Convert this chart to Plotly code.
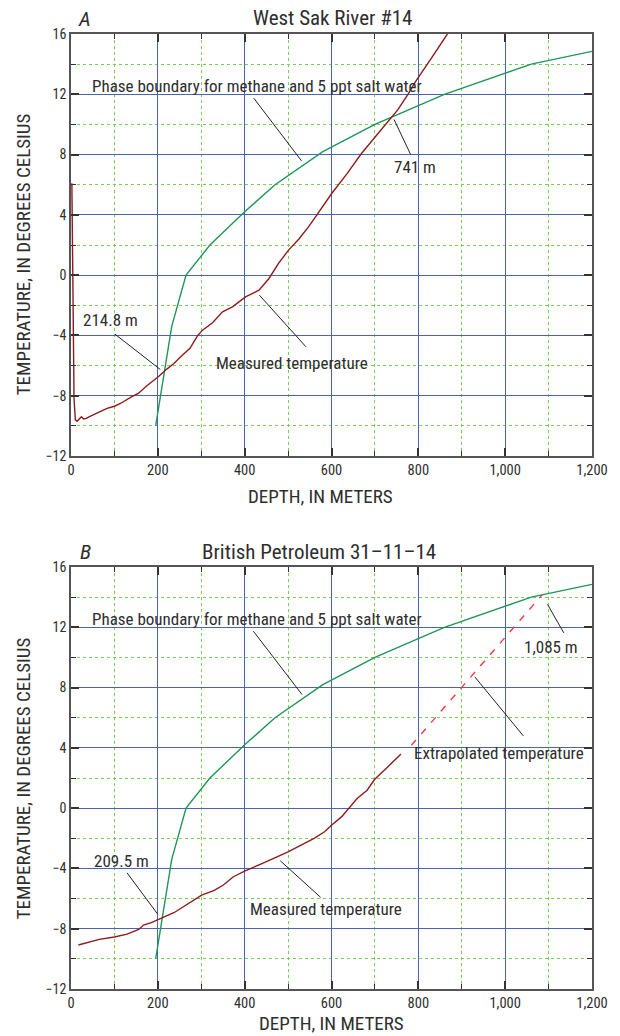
import numpy as np
import plotly.graph_objects as go

# Methane hydrate phase boundary for 5 ppt salt water (depth m, temperature degC)
boundary_depth = [195, 232, 265, 320, 400, 470, 580, 700, 860, 1060, 1200]
boundary_temp = [-10.0, -3.4, 0.0, 2.0, 4.2, 6.0, 8.2, 10.0, 12.0, 14.0, 14.85]

# West Sak River #14 measured temperature log
wsak_depth = [2, 3, 5, 7, 10, 14, 19, 24, 29, 35, 45, 56, 70, 83, 100, 115, 138, 155,
              174, 190, 201, 220, 237, 255, 274, 292, 303, 326, 349, 372, 402, 433,
              456, 478, 501, 525, 547, 566, 600, 635, 669, 700, 737, 753, 776, 795,
              829, 867]
wsak_temp = [6.1, 2.0, -4.0, -8.2, -9.6, -9.7, -9.55, -9.4, -9.55, -9.5, -9.35, -9.2,
             -9.0, -8.84, -8.7, -8.5, -8.1, -7.85, -7.35, -7.0, -6.74, -6.25, -5.86,
             -5.35, -4.86, -4.0, -3.65, -3.16, -2.43, -2.1, -1.44, -1.0, -0.22, 0.78,
             1.66, 2.4, 3.2, 3.98, 5.4, 6.7, 8.07, 9.15, 10.45, 10.98, 12.0, 12.9,
             14.35, 16.0]

# British Petroleum 31-11-14 measured temperature log
bp_depth = [17, 40, 65, 100, 129, 156, 167, 185, 201, 220, 237, 255, 274, 301, 330,
            351, 374, 401, 441, 470, 500, 530, 560, 584, 600, 623, 641, 659, 682, 699,
            730, 760]
bp_temp = [-9.08, -8.9, -8.71, -8.55, -8.36, -8.05, -7.76, -7.6, -7.38, -7.15, -6.94,
           -6.6, -6.28, -5.77, -5.45, -5.1, -4.55, -4.16, -3.67, -3.3, -2.9, -2.45,
           -2.0, -1.57, -1.13, -0.58, 0.0, 0.64, 1.19, 1.9, 2.75, 3.6]

# Straight-line extrapolation of the BP log below the measured interval
bp_extrap_depth = [784, 1085]
bp_extrap_temp = [4.17, 14.15]

# Depths where each profile meets the phase boundary
wsak_crossings = [214.8, 741]
bp_crossings = [209.5, 1085]

x_ticks = [0, 200, 400, 600, 800, 1000, 1200]
y_ticks = [-12, -8, -4, 0, 4, 8, 12, 16]

FONT = ("Liberation Sans Narrow, Roboto Condensed, Noto Sans Condensed, "
        "Arial Narrow, DejaVu Sans Condensed, sans-serif")
TEXT = "#2e2e2e"
BLUE = "#4a63b2"
GRID_GREEN = "#78cf58"
BOUNDARY = "#1f9656"
MEASURED = "#8c1c1c"
EXTRAP = "#f03a40"
LEADER = "#222222"

W, H = 620, 1036
ML, MR, MT, MB = 71, 25, 34, 47
PW, PH = W - ML - MR, H - MT - MB
PX_PER_M = PW / 1200.0
PX_PER_C = 422 / 28.0


def paper_x(px):
    return (px - ML) / PW


def paper_y(py):
    return (H - MB - py) / PH


def boundary_at(d):
    return float(np.interp(d, boundary_depth, boundary_temp))


fig = go.Figure()

panels = [
    dict(x="x", y="y", depth=wsak_depth, temp=wsak_temp),
    dict(x="x2", y="y2", depth=bp_depth, temp=bp_temp),
]

for p in panels:
    fig.add_trace(go.Scatter(x=boundary_depth, y=boundary_temp, mode="lines",
                             line=dict(color=BOUNDARY, width=1.4),
                             xaxis=p["x"], yaxis=p["y"], showlegend=False,
                             hoverinfo="skip"))
    fig.add_trace(go.Scatter(x=p["depth"], y=p["temp"], mode="lines",
                             line=dict(color=MEASURED, width=1.4),
                             xaxis=p["x"], yaxis=p["y"], showlegend=False,
                             hoverinfo="skip"))

fig.add_trace(go.Scatter(x=bp_extrap_depth, y=bp_extrap_temp, mode="lines",
                         line=dict(color=EXTRAP, width=1.4, dash="7px,8px"),
                         xaxis="x2", yaxis="y2", showlegend=False, hoverinfo="skip"))

axis_common = dict(
    showline=True, linecolor="#555555", linewidth=1.6, mirror="ticks",
    ticks="inside", ticklen=8, tickwidth=1.5, tickcolor="#333333",
    showgrid=True, gridcolor=BLUE, gridwidth=1.2, zeroline=False,
    tickfont=dict(family=FONT, size=14.5, color=TEXT),
)
x_axis = dict(axis_common, range=[0, 1200], tickvals=x_ticks, tickformat=",",
              minor=dict(dtick=100, tick0=0, ticks="inside", ticklen=5, tickwidth=1.2,
                         tickcolor="#333333", showgrid=True, gridcolor=GRID_GREEN,
                         griddash="dot", gridwidth=1))
y_axis = dict(axis_common, range=[-12, 16], tickvals=y_ticks,
              tickfont=dict(family=FONT, size=14, color=TEXT),
              minor=dict(dtick=2, tick0=0, ticks="inside", ticklen=5, tickwidth=1.2,
                         tickcolor="#333333", showgrid=True, gridcolor=GRID_GREEN,
                         griddash="dot", gridwidth=1))

dom_a = [paper_y(456), 1.0]
dom_b = [0.0, paper_y(567)]

fig.update_layout(
    width=W, height=H, margin=dict(l=ML, r=MR, t=MT, b=MB),
    paper_bgcolor="white", plot_bgcolor="white",
    font=dict(family=FONT, color=TEXT),
    xaxis=dict(x_axis, anchor="y", domain=[0, 1]),
    yaxis=dict(y_axis, anchor="x", domain=dom_a),
    xaxis2=dict(x_axis, anchor="y2", domain=[0, 1]),
    yaxis2=dict(y_axis, anchor="x2", domain=dom_b),
)

annotations = []


def label(text, px, py, size, **kw):
    annotations.append(dict(text=text, x=paper_x(px), y=paper_y(py), xref="paper",
                            yref="paper", showarrow=False, xanchor="center",
                            yanchor="middle", font=dict(family=FONT, size=size,
                                                        color=TEXT), **kw))


# Panel letters, titles and axis titles
label("<i>A</i>", 85, 19, 21)
label("West Sak River #14", 334, 18, 21)
label("DEPTH, IN METERS", 322, 496, 19)
label("TEMPERATURE, IN DEGREES CELSIUS", 23, 254, 19, textangle=-90)
label("<i>B</i>", 86, 552, 21)
label("British Petroleum 31\u201311\u201314", 320, 552, 21)
label("DEPTH, IN METERS", 333, 1023, 19)
label("TEMPERATURE, IN DEGREES CELSIUS", 23, 778, 19, textangle=-90)


def note(text, x, y, xref, yref, xanchor="center"):
    annotations.append(dict(text=text, x=x, y=y, xref=xref, yref=yref,
                            showarrow=False, xanchor=xanchor, yanchor="middle",
                            font=dict(family=FONT, size=17, color=TEXT)))


shapes = []


def leader(x0, y0, x1, y1, xref, yref, gap_px=0.0):
    # shorten the (x1, y1) end by gap_px on screen
    if gap_px:
        dx = (x1 - x0) * PX_PER_M
        dy = (y1 - y0) * PX_PER_C
        length = (dx * dx + dy * dy) ** 0.5
        f = max(length - gap_px, 0) / length
        x1 = x0 + (x1 - x0) * f
        y1 = y0 + (y1 - y0) * f
    shapes.append(dict(type="line", x0=x0, y0=y0, x1=x1, y1=y1, xref=xref, yref=yref,
                       line=dict(color=LEADER, width=1)))


# Panel A notes
note("Phase boundary for methane and 5 ppt salt water", 43, 12.55, "x", "y", "left")
leader(421, 11.74, 531, 7.58, "x", "y")
note("Measured temperature", 510, -5.84, "x", "y")
leader(434, -1.33, 541, -4.75, "x", "y")
d = wsak_crossings[0]
note(f"{d:,g} m", 90, -2.98, "x", "y")
leader(101, -3.91, d, boundary_at(d), "x", "y", gap_px=5)
d = wsak_crossings[1]
note(f"{d:,g} m", 793, 7.18, "x", "y")
leader(782, 8.02, d, boundary_at(d), "x", "y", gap_px=3)

# Panel B notes
note("Phase boundary for methane and 5 ppt salt water", 43, 12.55, "x2", "y2", "left")
leader(420, 11.74, 532, 7.54, "x2", "y2")
note("Measured temperature", 588, -6.72, "x2", "y2")
leader(482, -3.49, 575, -5.92, "x2", "y2")
note("Extrapolated temperature", 986, 3.63, "x2", "y2")
leader(930, 8.71, 1042, 4.79, "x2", "y2")
d = bp_crossings[0]
note(f"{d:,g} m", 117, -3.51, "x2", "y2")
leader(129, -4.29, d, boundary_at(d), "x2", "y2", gap_px=7)
d = bp_crossings[1]
note(f"{d:,g} m", 1106, 10.7, "x2", "y2")
leader(1135, 11.63, d, boundary_at(d), "x2", "y2", gap_px=11)

fig.update_layout(annotations=annotations, shapes=shapes)

fig.write_html("out.html")
